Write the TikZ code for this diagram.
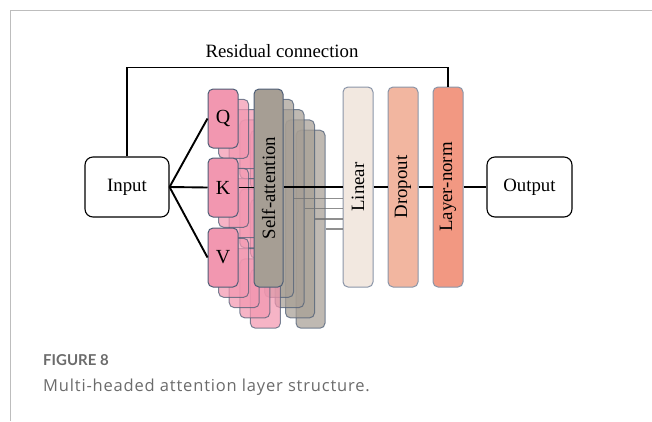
\documentclass[tikz,border=0pt]{standalone}
\usepackage{fontspec}
\setmainfont{Liberation Serif}
\newfontfamily\capfont{Lato}
\newfontfamily\capbody[LetterSpace=5]{Open Sans}
\usetikzlibrary{calc}
\definecolor{qkvcol}{HTML}{F297B0}
\definecolor{sattcol}{HTML}{A69E94}
\definecolor{lincol}{HTML}{F2E8E0}
\definecolor{dropcol}{HTML}{F2B6A0}
\definecolor{lnormcol}{HTML}{F29882}
\definecolor{edgecol}{HTML}{4E5E76}
\definecolor{edgelight}{HTML}{8A95A8}
\definecolor{framecol}{HTML}{BDBDBD}
\definecolor{captxt}{HTML}{6B6B6B}
\begin{document}
\begin{tikzpicture}[x=1pt,y=-1pt,
  txt/.style={font=\fontsize{18.8}{20}\selectfont},
  termbox/.style={txt, draw=black, line width=1.1pt, rounded corners=8pt,
    minimum width=84pt, minimum height=60pt, fill=white, inner sep=0pt},
  headbox/.style={txt, draw=edgecol, line width=1pt, rounded corners=5pt,
    fill=qkvcol, minimum width=30pt, minimum height=59pt, inner sep=0pt,
    font=\fontsize{20}{22}\selectfont},
  headcopy/.style={headbox, fill opacity=0.72, draw opacity=0.75},
  attbox/.style={txt, draw=edgecol, line width=1pt, rounded corners=5pt,
    fill=sattcol, minimum width=29pt, minimum height=198pt, inner sep=0pt},
  attcopy/.style={attbox, fill opacity=0.72, draw opacity=0.75},
  layerbox/.style={txt, draw=edgelight, line width=1pt, rounded corners=5pt,
    minimum width=30pt, minimum height=200pt, inner sep=0pt},
  conn/.style={draw=black, line width=1.9pt},
  thinconn/.style={draw=black!55, line width=1.5pt, draw opacity=0.8}]
\useasboundingbox (0,0) rectangle (652,421);
% frame
\draw[framecol, line width=1.3pt] (10.5,421) -- (10.5,10.5) -- (652,10.5);

% layer boxes
\node[layerbox, fill=lincol] (lin) at (358,187) {\rotatebox{90}{Linear}};
\node[layerbox, fill=dropcol] (drop) at (403,187) {\rotatebox{90}{Dropout}};
\node[layerbox, fill=lnormcol] (ln) at (448,187) {\rotatebox{90}{Layer-norm}};

% input / output
\node[termbox] (inp) at (127,187) {Input};
\node[termbox, minimum width=85pt] (out) at (529.5,187) {Output};

% stacked copies (back to front)
\foreach \k in {4,3,2,1}{
  \node[attcopy] (sc\k) at ($(268.5,188)+(10.5*\k,10.3*\k)$) {};
}
\foreach \k in {4,3,2,1}{
  \node[headcopy] (qc\k) at ($(223,118.5)+(10.6*\k,10.3*\k)$) {};
  \node[headcopy] (kc\k) at ($(223,187.5)+(10.6*\k,10.3*\k)$) {};
  \node[headcopy] (vc\k) at ($(223,257.5)+(10.6*\k,10.3*\k)$) {};
}
% main heads
\node[headbox] (q) at (223,118.5) {Q};
\node[headbox] (k) at (223,187.5) {K};
\node[headbox] (v) at (223,257.5) {V};
\node[attbox] (sa) at (268.5,188) {\rotatebox{90}{Self-attention}};

% connectors
\draw[conn] (inp.east) -- (q.west);
\draw[conn] (inp.east) -- (k.west);
\draw[conn] (inp.east) -- (v.west);
\draw[conn] (k.east) -- (k.east -| sa.west);
\draw[conn] (sa.east |- lin.west) -- (lin.west);
\foreach \k in {1,2,3,4}{
  \draw[thinconn] (sc\k.east) -- (sc\k.east -| lin.west);
}
\draw[conn] (lin.east) -- (drop.west);
\draw[conn] (drop.east) -- (ln.west);
\draw[conn] (ln.east) -- (out.west);

% residual
\coordinate (rtop) at ($(ln.north)+(0,-19)$);
\draw[conn] (inp.north) |- (rtop) -- (ln.north);
\node[txt] (rlabel) at (282,51) {Residual connection};

% caption
\node[anchor=base west, inner sep=0pt, text=captxt,
  font=\capfont\bfseries\fontsize{15}{16}\selectfont] (fig) at (43,365.7) {FIGURE 8};
\node[anchor=base west, inner sep=0pt, text=captxt,
  font=\capbody\fontsize{16.5}{18}\selectfont] (cap) at (43,391.7) {Multi-headed attention layer structure.};
\end{tikzpicture}
\end{document}
